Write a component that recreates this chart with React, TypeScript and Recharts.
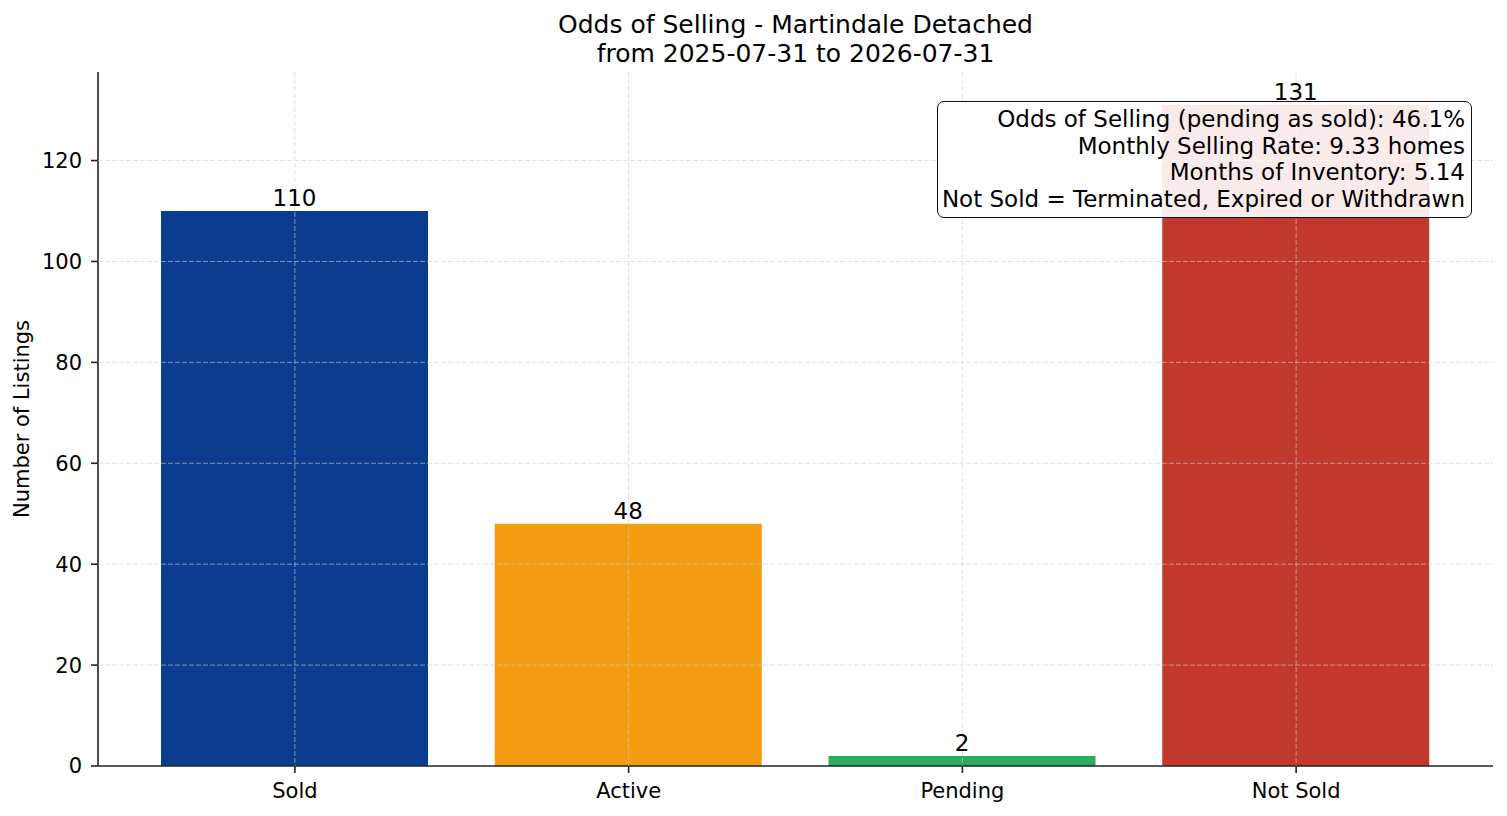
import React from 'react'
import { BarChart, Bar, XAxis, YAxis, CartesianGrid, Cell, LabelList, Label } from 'recharts'

const categories = ['Sold', 'Active', 'Pending', 'Not Sold']
const counts = [110, 48, 2, 131]
const yTicks = [0, 20, 40, 60, 80, 100, 120]
const titleLines = ['Odds of Selling - Martindale Detached', 'from 2025-07-31 to 2026-07-31']
const statLines = [
  'Odds of Selling (pending as sold): 46.1%',
  'Monthly Selling Rate: 9.33 homes',
  'Months of Inventory: 5.14',
  'Not Sold = Terminated, Expired or Withdrawn',
]

const BAR_COLORS = ['#0b3c8f', '#f39c12', '#27ae60', '#c0392b']
const FONT = '"DejaVu Sans", sans-serif'

const data = categories.map((name, i) => ({ name, count: counts[i] }))
const yMax = Math.max(...counts) * 1.05

const renderYLabel = (props: any) => {
  const { viewBox } = props
  const x = viewBox.x + 22
  const y = viewBox.y + viewBox.height / 2
  return (
    <text
      x={x}
      y={y}
      transform={`rotate(-90, ${x}, ${y})`}
      textAnchor="middle"
      dominantBaseline="central"
      fontSize={21}
      fill="#000"
      fontFamily={FONT}
    >
      Number of Listings
    </text>
  )
}

// the scale object differs between recharts versions
const applyScale = (scale: any, v: any) => {
  if (typeof scale === 'function') return scale(v)
  if (scale && typeof scale.map === 'function') return scale.map(v)
  if (scale && typeof scale.apply === 'function') return scale.apply(v)
  return undefined
}

// skip the 0 line, the x axis spine sits there
const hLines = ({ yAxis, offset }: any) =>
  yTicks
    .filter(t => t > 0)
    .map(t => {
      const p = applyScale(yAxis?.scale, t)
      return p ?? offset.top + offset.height * (1 - t / yMax)
    })

const vLines = ({ xAxis, offset }: any) => {
  const bandW = (offset.width - 60) / categories.length
  return categories.map((c, i) => {
    const p = applyScale(xAxis?.scale, c)
    return p !== undefined && !Number.isNaN(p) && typeof xAxis.scale.bandwidth === 'function'
      ? p + xAxis.scale.bandwidth() / 2
      : offset.left + 30 + bandW * (i + 0.5)
  })
}

export default function App() {
  return (
    <div style={{ position: 'absolute', left: 0, top: 0, width: 1507, height: 816, background: '#fff', fontFamily: FONT }}>
      <div
        style={{
          position: 'absolute',
          left: 98,
          width: 1395,
          top: 11,
          textAlign: 'center',
          fontSize: 25,
          lineHeight: '28.5px',
          color: '#000',
        }}
      >
        {titleLines.map(t => (
          <div key={t}>{t}</div>
        ))}
      </div>
      <BarChart
        width={1507}
        height={816}
        data={data}
        margin={{ top: 72, right: 14, bottom: 0, left: 0 }}
        style={{ fontFamily: FONT }}
      >
        <XAxis
          dataKey="name"
          height={50}
          padding={{ left: 30, right: 30 }}
          tickSize={7}
          tickMargin={10}
          tick={{ fill: '#000', fontSize: 21 }}
          axisLine={{ stroke: '#222', strokeWidth: 1.6 }}
          tickLine={{ stroke: '#222', strokeWidth: 1.6 }}
        />
        <YAxis
          type="number"
          domain={[0, yMax]}
          ticks={yTicks}
          width={98}
          tickSize={7}
          tickMargin={9}
          tick={{ fill: '#000', fontSize: 21 }}
          axisLine={{ stroke: '#222', strokeWidth: 1.6 }}
          tickLine={{ stroke: '#222', strokeWidth: 1.6 }}
        >
          <Label content={renderYLabel} />
        </YAxis>
        <Bar dataKey="count" barSize={267} isAnimationActive={false}>
          {data.map((d, i) => (
            <Cell key={d.name} fill={BAR_COLORS[i]} />
          ))}
          <LabelList dataKey="count" position="top" offset={5} fill="#000" fontSize={23} />
        </Bar>
        <CartesianGrid
          {...({ zIndex: 500 } as any)}
          horizontalCoordinatesGenerator={hLines}
          verticalCoordinatesGenerator={vLines}
          stroke="#cfcfcf"
          strokeOpacity={0.75}
          strokeDasharray="5 2"
          strokeWidth={0.8}
        />
      </BarChart>
      <div
        style={{
          position: 'absolute',
          left: 937,
          top: 101,
          width: 535,
          height: 117,
          boxSizing: 'border-box',
          border: '1.8px solid #111',
          borderRadius: 7,
          background: 'rgba(255,255,255,0.9)',
          padding: '4px 6px 0 0',
          textAlign: 'right',
          fontSize: 23,
          lineHeight: '26.5px',
          color: '#000',
          whiteSpace: 'nowrap',
        }}
      >
        {statLines.map(t => (
          <div key={t}>{t}</div>
        ))}
      </div>
    </div>
  )
}
